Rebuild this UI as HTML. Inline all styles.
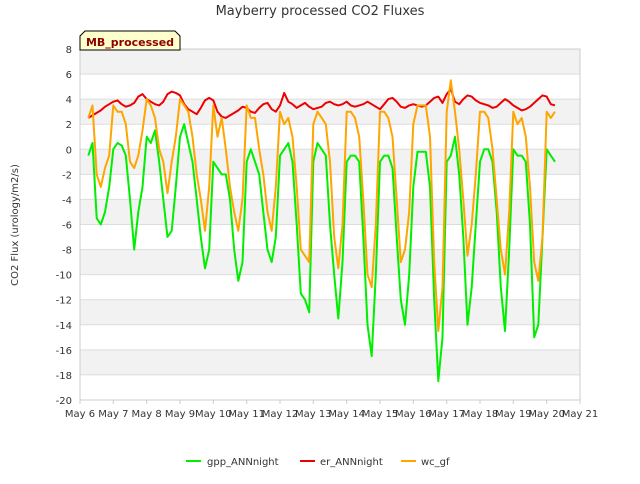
<!DOCTYPE html>
<html><head><meta charset="utf-8"><style>
body{margin:0;background:#fff;font-family:"DejaVu Sans","Liberation Sans",sans-serif;}
svg text{font-family:"DejaVu Sans","Liberation Sans",sans-serif;}
</style></head><body>
<svg id="chart" width="640" height="480">
<text x="320" y="15" text-anchor="middle" font-size="13" fill="#333">Mayberry processed CO2 Fluxes</text>
<text transform="translate(18,225) rotate(-90)" text-anchor="middle" font-size="10" fill="#333">CO2 Flux (urology/m2/s)</text>
<g id="grid"></g>
<g id="series"></g>
<rect x="80" y="49" width="500" height="351" fill="none" stroke="#ccc"/>
<g id="axes"></g>
<g>
<path d="M80,50 L80,36 L85,31 L175,31 L180,36 L180,50 Z" fill="#ffffcc" stroke="#000"/>
<text x="130" y="46" text-anchor="middle" font-size="11" font-weight="bold" fill="#8b0000">MB_processed</text>
</g>
<g>
<g><line x1="186" y1="461" x2="201" y2="461" stroke="#00ee00" stroke-width="2"/><text x="207" y="465" font-size="10" fill="#333">gpp_ANNnight</text></g>
<g><line x1="300" y1="461" x2="315" y2="461" stroke="#ee0000" stroke-width="2"/><text x="320" y="465" font-size="10" fill="#333">er_ANNnight</text></g>
<g><line x1="401" y1="461" x2="416" y2="461" stroke="#ffa500" stroke-width="2"/><text x="421" y="465" font-size="10" fill="#333">wc_gf</text></g>
</g>
</svg>
<script>
const xTickLabels=["May 6","May 7","May 8","May 9","May 10","May 11","May 12","May 13","May 14","May 15","May 16","May 17","May 18","May 19","May 20","May 21"];
const yTicks=[8,6,4,2,0,-2,-4,-6,-8,-10,-12,-14,-16,-18,-20];
const startDay=6.25, stepDay=0.125;
const gpp=[-0.5,0.5,-5.5,-6,-5,-3,0,0.5,
0.3,-0.5,-4,-8,-5,-3,1,0.5,
1.5,-1,-4,-7,-6.5,-3,1,2,
0.5,-1,-4,-7,-9.5,-8,-1,-1.5,
-2,-2,-4,-8,-10.5,-9,-1,0,
-1,-2,-5,-8,-9,-7,-0.5,0,
0.5,-1,-6,-11.5,-12,-13,-1,0.5,
0,-0.5,-6,-10,-13.5,-9,-1,-0.5,
-0.5,-1,-7,-14,-16.5,-10,-1,-0.5,
-0.5,-1.5,-7,-12,-14,-10,-3,-0.2,
-0.2,-0.2,-3,-12,-18.5,-15,-1,-0.5,
1,-2,-7,-14,-11,-6,-1,0,
0,-1,-5,-11,-14.5,-8,0,-0.5,
-0.5,-1,-6,-15,-14,-7,0,-0.5,
-1];
const er=[2.5,2.7,2.9,3.1,3.4,3.6,3.8,3.9,
3.6,3.4,3.5,3.7,4.2,4.4,4.0,3.8,
3.6,3.5,3.8,4.4,4.6,4.5,4.3,3.6,
3.2,3.0,2.8,3.3,3.9,4.1,3.9,3.0,
2.6,2.5,2.7,2.9,3.1,3.4,3.3,3.0,
2.9,3.3,3.6,3.7,3.2,3.0,3.5,4.5,
3.8,3.6,3.3,3.5,3.7,3.4,3.2,3.3,
3.4,3.7,3.8,3.6,3.5,3.6,3.8,3.5,
3.4,3.5,3.6,3.8,3.6,3.4,3.2,3.6,
4.0,4.1,3.8,3.4,3.3,3.5,3.6,3.5,
3.4,3.5,3.8,4.1,4.2,3.7,4.4,4.8,
3.8,3.6,4.0,4.3,4.2,3.9,3.7,3.6,
3.5,3.3,3.4,3.7,4.0,3.8,3.5,3.3,
3.1,3.2,3.4,3.7,4.0,4.3,4.2,3.6,
3.5];
const wc=[2.5,3.5,-2,-3,-1.5,-0.5,3.5,3,
3,2,-1,-1.5,-0.5,1.5,4,3.5,
2.5,0,-1,-3.5,-1,1,4,3.5,
3,1,-2,-4,-6.5,-3,3.5,1,
2.5,0,-3,-5,-6.5,-4,3.5,2.5,
2.5,0,-2,-5,-6.5,-3,3,2,
2.5,1,-3,-8,-8.5,-9,2,3,
2.5,2,-1,-7,-9.5,-6,3,3,
2.5,1,-4,-10,-11,-6,3,3,
2.5,1,-4,-9,-8,-5,2,3.5,
3.5,3.5,1,-9,-14.5,-11,3,5.5,
3,0,-4,-8.5,-6,-2,3,3,
2.5,0,-4,-8,-10,-5,3,2,
2.5,1,-3,-9,-10.5,-7,3,2.5,
3];
const X0=80,X1=580,Y0=49,Y1=400;
const xs=d=>X0+(d-6)*(X1-X0)/15;
const ys=v=>Y0+(8-v)*(Y1-Y0)/28;
const NS="http://www.w3.org/2000/svg";
function mk(tag,attrs,parent){const e=document.createElementNS(NS,tag);for(const k in attrs)e.setAttribute(k,attrs[k]);parent.appendChild(e);return e;}
const grid=document.getElementById('grid'),axes=document.getElementById('axes'),ser=document.getElementById('series');
for(let v=8;v>-20;v-=4){
  const b=mk('rect',{x:X0,y:ys(v),width:X1-X0,height:ys(v-2)-ys(v),fill:'#f2f2f2'},grid);
  
  
}
yTicks.forEach(v=>{
  const l=mk('line',{x1:X0,x2:X1,y1:ys(v),y2:ys(v),stroke:'#ddd'},grid);
  
  
  const t=mk('text',{x:X0-8,y:ys(v)+4,'text-anchor':'end','font-size':10,fill:'#333'},axes);
  t.textContent=v;
  
  
});
xTickLabels.forEach((s,i)=>{
  const x=xs(6+i);
  const tk=mk('line',{x1:x,x2:x,y1:Y1,y2:Y1+4,stroke:'#ccc'},axes);
  
  
  const t=mk('text',{x:x,y:Y1+17,'text-anchor':'middle','font-size':10,fill:'#333'},axes);
  t.textContent=s;
  
  
});
function line(arr,color,name){
  const pts=arr.map((v,i)=>xs(startDay+i*stepDay).toFixed(1)+','+ys(v).toFixed(1)).join(' ');
  const p=mk('polyline',{points:pts,fill:'none',stroke:color,'stroke-width':2,'stroke-linejoin':'round'},ser);
  
  
}
line(gpp,'#00ee00','gpp-line');
line(er,'#ee0000','er-line');
line(wc,'#ffa500','wc-line');
</script>
</body></html>
